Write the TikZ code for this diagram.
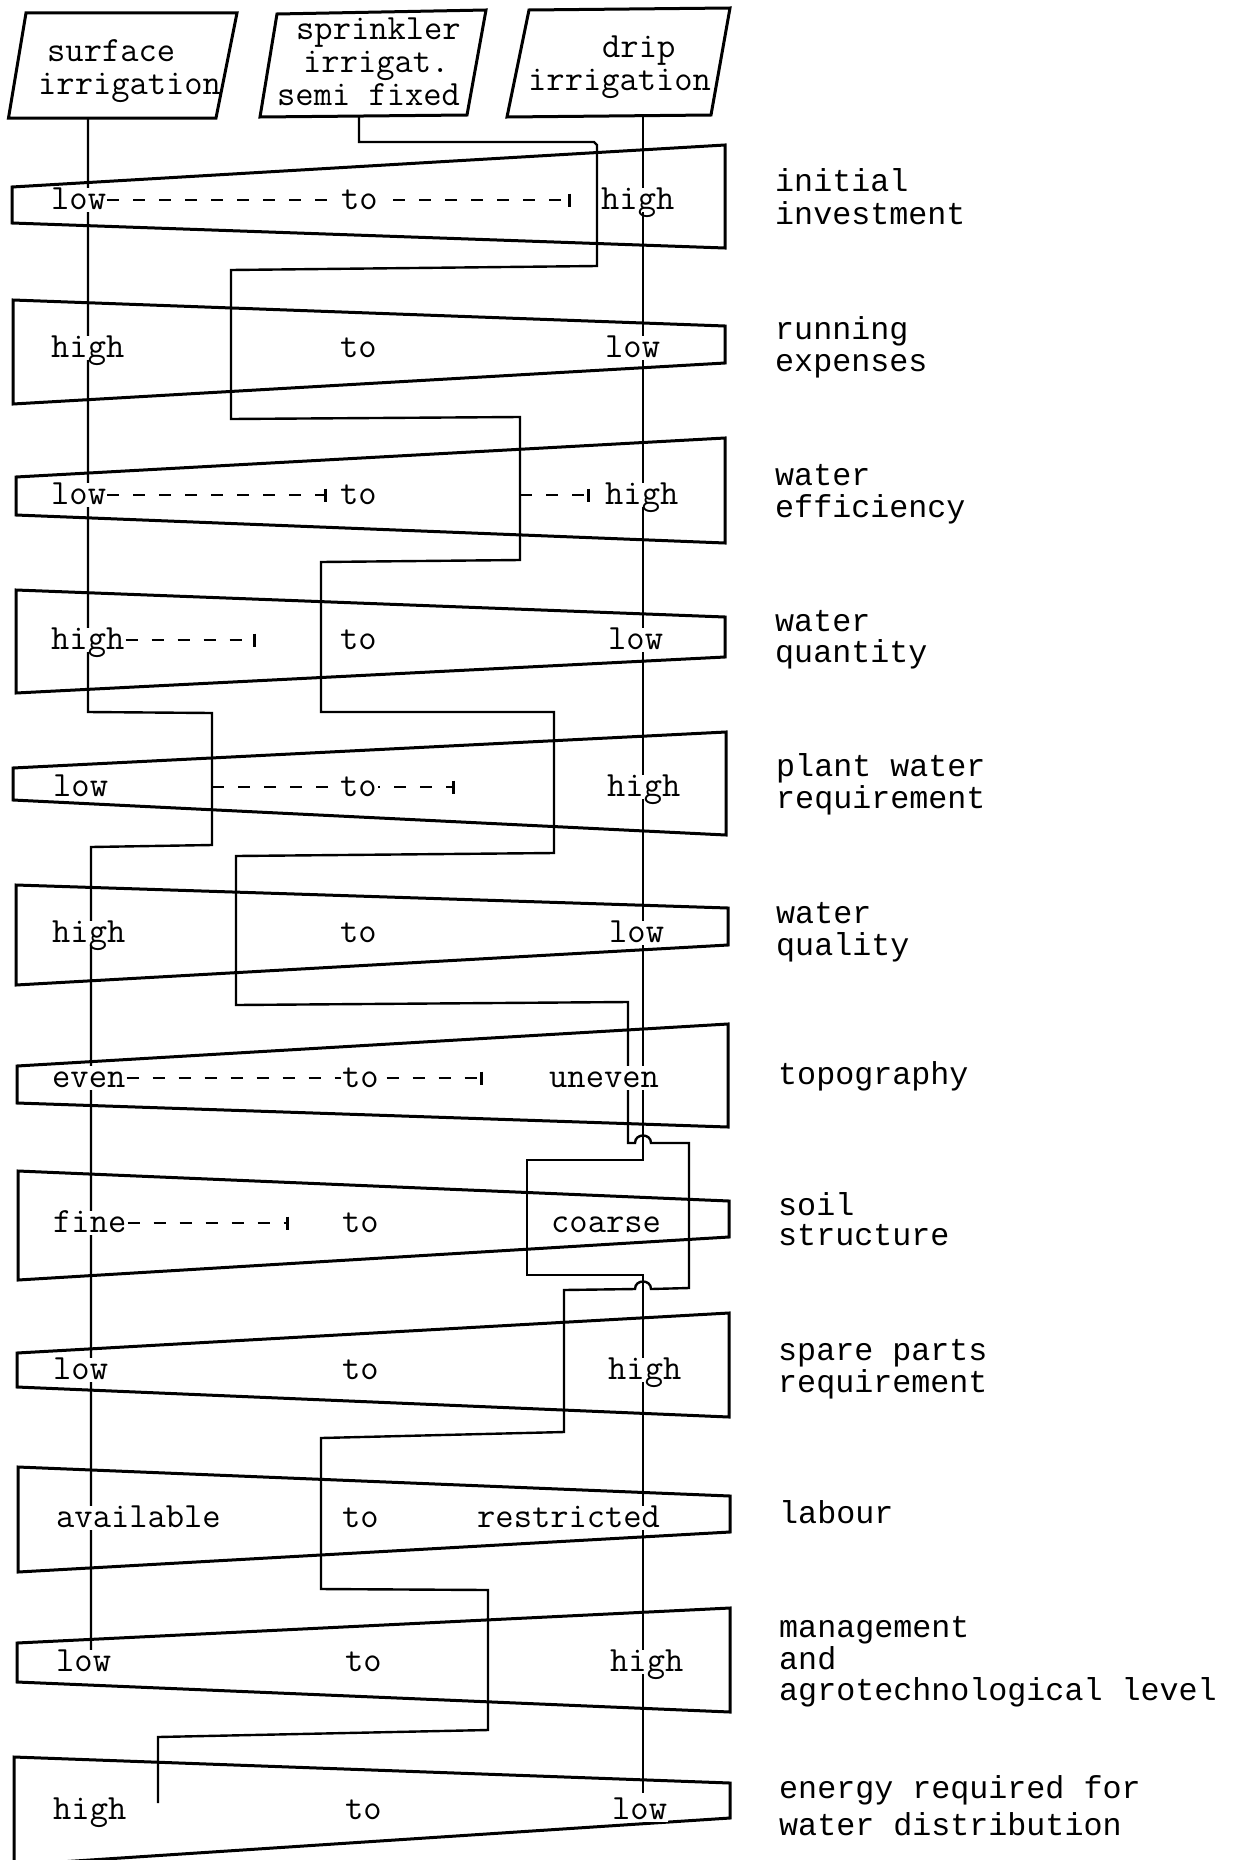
\documentclass[tikz,border=0pt]{standalone}
\usepackage{fontspec}
\newfontfamily\labfamily{Liberation Mono}
\usetikzlibrary{arrows.meta,backgrounds}
\newcommand\wordfont{\ttfamily\fontsize{35.5pt}{33pt}\selectfont}
\newcommand\labfont{\labfamily\fontsize{31.7pt}{32pt}\selectfont}
\begin{document}
\begin{tikzpicture}[x=1pt,y=-1pt,
  outl/.style={line width=3pt,line join=miter},
  conn/.style={line width=2.4pt},
  dashln/.style={line width=2.2pt,dash pattern=on 12pt off 14pt,-{Bar[width=13pt,line width=3pt]}},
  word/.style={font=\wordfont,fill=white,inner sep=1pt,text height=20pt,text depth=2pt,anchor=base west},
  hdr/.style={font=\wordfont,inner sep=0pt,text height=20pt,text depth=4pt,anchor=base west},
  lab/.style={font=\labfont,inner sep=0pt,text height=18pt,text depth=5pt,anchor=base west}]
\useasboundingbox (0,0) rectangle (1238,1860);

% header texts
\node[hdr] (h1a) at (47,62) {surface};
\node[hdr] (h1b) at (38,94) {irrigation};
\node[hdr] (h2a) at (296,40) {sprinkler};
\node[hdr] (h2b) at (303,72) {irrigat.};
\node[hdr] (h2c) at (277,105) {semi fixed};
\node[hdr] (h3a) at (602,58) {drip};
\node[hdr] (h3b) at (528,90) {irrigation};

% row words
\node[word] (r1a) at (50,209) {low};
\node[word] (r1b) at (340,209) {to};
\node[word] (r1c) at (600,209) {high};
\node[word] (r2a) at (50,357) {high};
\node[word] (r2b) at (339,357) {to};
\node[word] (r2c) at (604,357) {low};
\node[word] (r3a) at (50,504) {low};
\node[word] (r3b) at (339,504) {to};
\node[word] (r3c) at (604,504) {high};
\node[word] (r4a) at (50,649) {high};
\node[word] (r4b) at (339,649) {to};
\node[word] (r4c) at (607,649) {low};
\node[word] (r5a) at (52,796) {low};
\node[word] (r5b) at (339,796) {to};
\node[word] (r5c) at (606,796) {high};
\node[word] (r6a) at (51,942) {high};
\node[word] (r6b) at (339,942) {to};
\node[word] (r6c) at (608,942) {low};
\node[word] (r7a) at (51,1087) {even};
\node[word] (r7b) at (341,1087) {to};
\node[word] (r7c) at (548,1087) {uneven};
\node[word] (r8a) at (52,1232) {fine};
\node[word] (r8b) at (341,1232) {to};
\node[word] (r8c) at (550,1232) {coarse};
\node[word] (r9a) at (52,1379) {low};
\node[word] (r9b) at (341,1379) {to};
\node[word] (r9c) at (607,1379) {high};
\node[word] (r10a) at (55,1527) {available};
\node[word] (r10b) at (341,1527) {to};
\node[word] (r10c) at (476,1527) {restricted};
\node[word] (r11a) at (55,1671) {low};
\node[word] (r11b) at (344,1671) {to};
\node[word] (r11c) at (609,1671) {high};
\node[word] (r12a) at (52,1819) {high};
\node[word] (r12b) at (344,1819) {to};
\node[word] (r12c) at (611,1819) {low};

% right labels
\node[lab] (l1a) at (775,191) {initial};
\node[lab] (l1b) at (775,224) {investment};
\node[lab] (l2a) at (775,339) {running};
\node[lab] (l2b) at (775,371) {expenses};
\node[lab] (l3a) at (775,485) {water};
\node[lab] (l3b) at (775,517) {efficiency};
\node[lab] (l4a) at (775,631) {water};
\node[lab] (l4b) at (775,662) {quantity};
\node[lab] (l5a) at (776,776) {plant water};
\node[lab] (l5b) at (776,808) {requirement};
\node[lab] (l6a) at (776,923) {water};
\node[lab] (l6b) at (776,955) {quality};
\node[lab] (l7a) at (778,1084) {topography};
\node[lab] (l8a) at (778,1215) {soil};
\node[lab] (l8b) at (778,1245) {structure};
\node[lab] (l9a) at (778,1360) {spare parts};
\node[lab] (l9b) at (778,1392) {requirement};
\node[lab] (l10a) at (779,1523) {labour};
\node[lab] (l11a) at (779,1637) {management};
\node[lab] (l11b) at (779,1669) {and};
\node[lab] (l11c) at (779,1700) {agrotechnological level};
\node[lab] (l12a) at (779,1798) {energy required for};
\node[lab] (l12b) at (779,1835) {water distribution};

% connector end points
\coordinate (sTop) at (88,118);
\coordinate (sEnd) at (91,1652);
\coordinate (pTop) at (359,116);
\coordinate (pEnd) at (158,1803);
\coordinate (dTop) at (643,116);
\coordinate (dEnd) at (643,1793);
% dash end points
\coordinate (e1) at (571,0);
\coordinate (e3a) at (327,0);
\coordinate (s3) at (520,0);
\coordinate (e3b) at (590,0);
\coordinate (e4) at (256,0);
\coordinate (s5) at (212,0);
\coordinate (e5) at (455,0);
\coordinate (e7) at (483,0);
\coordinate (e8) at (289,0);

\begin{pgfonlayer}{background}
% header boxes
\draw[outl] (26,13) -- (237,13) -- (216,118) -- (8.5,118) -- cycle;
\draw[outl] (277,14) -- (486,10) -- (467,115) -- (260,117) -- cycle;
\draw[outl] (529,10) -- (730,8) -- (711,115) -- (507,117) -- cycle;
% trapezoids
\draw[outl] (12,187) -- (725,145) -- (725,248) -- (12,223) -- cycle;
\draw[outl] (13,300) -- (725,326) -- (725,363) -- (13,404) -- cycle;
\draw[outl] (16,477) -- (725,438) -- (725,543) -- (16,515) -- cycle;
\draw[outl] (16,590) -- (725,617) -- (725,657) -- (16,693) -- cycle;
\draw[outl] (13,768) -- (726,732) -- (726,835) -- (13,800) -- cycle;
\draw[outl] (16,885) -- (728,908) -- (728,945) -- (16,985) -- cycle;
\draw[outl] (17,1066) -- (728,1024) -- (728,1127) -- (17,1103) -- cycle;
\draw[outl] (18,1171) -- (729,1201) -- (729,1237) -- (18,1280) -- cycle;
\draw[outl] (17,1353) -- (729,1313) -- (729,1417) -- (17,1387) -- cycle;
\draw[outl] (18,1467) -- (730,1496) -- (730,1532) -- (18,1572) -- cycle;
\draw[outl] (17,1643) -- (730,1608) -- (730,1712) -- (17,1682) -- cycle;
\draw[outl] (14,1757) -- (730,1783) -- (730,1818) -- (14,1865) -- cycle;
% surface irrigation connector
\draw[conn] (sTop) -- (88,712) -- (212,713) -- (212,845) -- (91,847) -- (sEnd);
% sprinkler connector
\draw[conn] (pTop) -- (359,142) -- (594,142) -- (597,145) -- (597,266) -- (231,270)
  -- (231,419) -- (520,417) -- (520,560) -- (321,562) -- (321,712) -- (554,712)
  -- (554,853) -- (236,856) -- (236,1005) -- (628,1002) -- (628,1143) -- (635,1143)
  .. controls (635,1133) and (651,1133) .. (651,1143) -- (689,1143) -- (689,1288)
  -- (651,1289) .. controls (651,1279) and (635,1279) .. (635,1289) -- (564,1290)
  -- (564,1432) -- (321,1438) -- (321,1589) -- (488,1590) -- (488,1730) -- (158,1737) -- (pEnd);
% drip connector
\draw[conn] (dTop) -- (643,1160) -- (527,1160) -- (527,1275) -- (643,1275) -- (dEnd);
% dashed indications
\draw[dashln] (r1a.east) -- (r1a.east -| e1);
\draw[dashln] (r3a.east) -- (r3a.east -| e3a);
\draw[dashln] (r3c.west -| s3) -- (r3c.west -| e3b);
\draw[dashln] (r4a.east) -- (r4a.east -| e4);
\draw[dashln] (r5b.west -| s5) -- (r5b.west -| e5);
\draw[dashln] (r7a.east) -- (r7a.east -| e7);
\draw[dashln] (r8a.east) -- (r8a.east -| e8);
\end{pgfonlayer}
\end{tikzpicture}
\end{document}
